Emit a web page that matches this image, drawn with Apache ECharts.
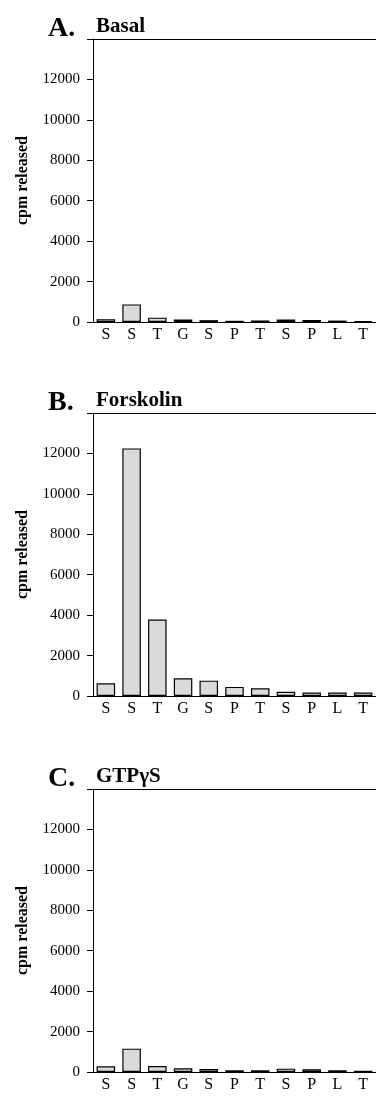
<!DOCTYPE html>
<html><head><meta charset="utf-8">
<script src="https://cdn.jsdelivr.net/npm/echarts@6/dist/echarts.min.js"></script>
<style>html,body{margin:0;padding:0;background:#fff}#c{width:376px;height:1097px}</style>
</head><body><div id="c"></div>
<script>
const categories = ['S','S','T','G','S','P','T','S','P','L','T'];
const basal =     [140, 870, 215, 120, 90, 60, 75, 120, 100, 70, 40];
const forskolin = [630, 12250, 3780, 880, 760, 450, 380, 210, 170, 170, 170];
const gtpgs =     [280, 1155, 300, 180, 150, 85, 85, 165, 130, 85, 60];
const panelLetters = ['A.', 'B.', 'C.'];
const panelTitles = ['Basal', 'Forskolin', 'GTPγS'];
const yName = 'cpm released';

const serif = "'Liberation Serif','Times New Roman',serif";
const tops = [39, 413, 789];
const h = 283;
const seriesData = [basal, forskolin, gtpgs];

const grids = [], xAxes = [], yAxes = [], series = [], titles = [];
tops.forEach((t, i) => {
  grids.push({left: 93, right: -4, top: t, height: h, show: false});
  xAxes.push({type: 'category', gridIndex: i, data: categories,
    axisLine: {lineStyle: {color: '#000', width: 1}}, axisTick: {show: false},
    axisLabel: {color: '#000', fontFamily: serif, fontSize: 16, margin: 5}});
  xAxes.push({type: 'category', gridIndex: i, data: categories, position: 'top',
    axisLine: {show: true, lineStyle: {color: '#000', width: 1}}, axisTick: {show: false},
    axisLabel: {show: false}});
  yAxes.push({type: 'value', gridIndex: i, min: 0, max: 14000, interval: 2000,
    name: yName, nameLocation: 'middle', nameGap: 62, nameRotate: 90,
    nameTextStyle: {color: '#000', fontFamily: serif, fontSize: 16, fontWeight: 'bold'},
    splitLine: {show: false},
    axisLine: {show: true, lineStyle: {color: '#000', width: 1}},
    axisTick: {show: true, length: 6, lineStyle: {color: '#000'}},
    axisLabel: {color: '#000', fontFamily: serif, fontSize: 15, margin: 13,
      formatter: v => v === 14000 ? '' : String(v)}});
  series.push({type: 'bar', xAxisIndex: 2 * i, yAxisIndex: i, data: seriesData[i],
    barCategoryGap: '28%',
    itemStyle: {color: '#dadada', borderColor: '#000', borderWidth: 1.2},
    silent: true, animation: false});
  titles.push({text: panelLetters[i], left: 43, top: t - 29,
    textStyle: {fontFamily: serif, fontSize: 28, fontWeight: 'bold', color: '#000'}});
  titles.push({text: panelTitles[i], left: 91, top: t - 28,
    textStyle: {fontFamily: serif, fontSize: 21, fontWeight: 'bold', color: '#000'}});
});

const chart = echarts.init(document.getElementById('c'), null, {renderer: 'canvas'});
chart.setOption({backgroundColor: '#fff', animation: false, title: titles,
  grid: grids, xAxis: xAxes, yAxis: yAxes, series: series});
</script></body></html>
